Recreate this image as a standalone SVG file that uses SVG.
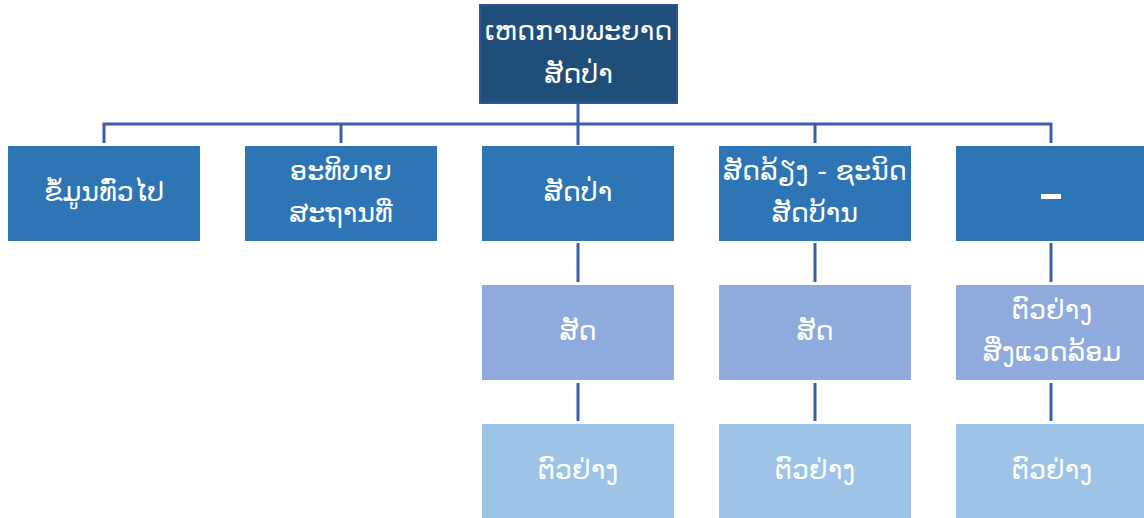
<svg xmlns="http://www.w3.org/2000/svg" width="1144" height="518" viewBox="0 0 1144 518">
<style>
.t{font-family:"DejaVu Sans","Noto Sans",sans-serif;font-size:27px;fill:#ffffff;text-anchor:middle}
.l1{fill:#2E75B6}
.l2{fill:#8FAADC}
.l3{fill:#9DC3E6}
.c{stroke:#3B5EA8;stroke-width:3;fill:none}
</style>
<rect width="1144" height="518" fill="#ffffff"/>
<g id="connectors">
<path class="c" d="M578,103 V145 M104,143 V124 H1051 V143 M341,124 V143 M815,124 V143"/>
<path class="c" d="M578,243 V282 M578,383 V421 M815,243 V282 M815,383 V421 M1051,243 V282 M1051,383 V421"/>
</g>
<g id="root">
<rect x="480" y="5" width="197" height="98" fill="#1F4E79" stroke="#2F5597" stroke-width="2"/>
<text class="t" x="578.5" y="40">ເຫດການພະຍາດ</text>
<text class="t" x="578.5" y="83">ສັດປ່າ</text>
</g>
<g id="n1"><rect class="l1" x="8" y="146" width="192" height="95"/><text class="t" x="104" y="201">ຂໍ້ມູນທົ່ວໄປ</text></g>
<g id="n2"><rect class="l1" x="245" y="146" width="192" height="95"/><text class="t" x="341" y="180">ອະທິບາຍ</text><text class="t" x="341" y="222">ສະຖານທີ່</text></g>
<g id="n3"><rect class="l1" x="482" y="146" width="192" height="95"/><text class="t" x="578" y="201">ສັດປ່າ</text></g>
<g id="n4"><rect class="l1" x="719" y="146" width="192" height="95"/><text class="t" x="815" y="180">ສັດລ້ຽງ - ຊະນິດ</text><text class="t" x="815" y="222">ສັດບ້ານ</text></g>
<g id="n5"><rect class="l1" x="956" y="146" width="192" height="95"/><rect x="1041" y="194" width="20" height="5" fill="#ffffff"/></g>
<g id="n3a"><rect class="l2" x="482" y="285" width="192" height="95"/><text class="t" x="578" y="340">ສັດ</text></g>
<g id="n4a"><rect class="l2" x="719" y="285" width="192" height="95"/><text class="t" x="815" y="340">ສັດ</text></g>
<g id="n5a"><rect class="l2" x="956" y="285" width="192" height="95"/><text class="t" x="1052" y="319">ຕົວຢ່າງ</text><text class="t" x="1052" y="361">ສິ່ງແວດລ້ອມ</text></g>
<g id="n3b"><rect class="l3" x="482" y="424" width="192" height="94"/><text class="t" x="578" y="479">ຕົວຢ່າງ</text></g>
<g id="n4b"><rect class="l3" x="719" y="424" width="192" height="94"/><text class="t" x="815" y="479">ຕົວຢ່າງ</text></g>
<g id="n5b"><rect class="l3" x="956" y="424" width="192" height="94"/><text class="t" x="1052" y="479">ຕົວຢ່າງ</text></g>
</svg>
